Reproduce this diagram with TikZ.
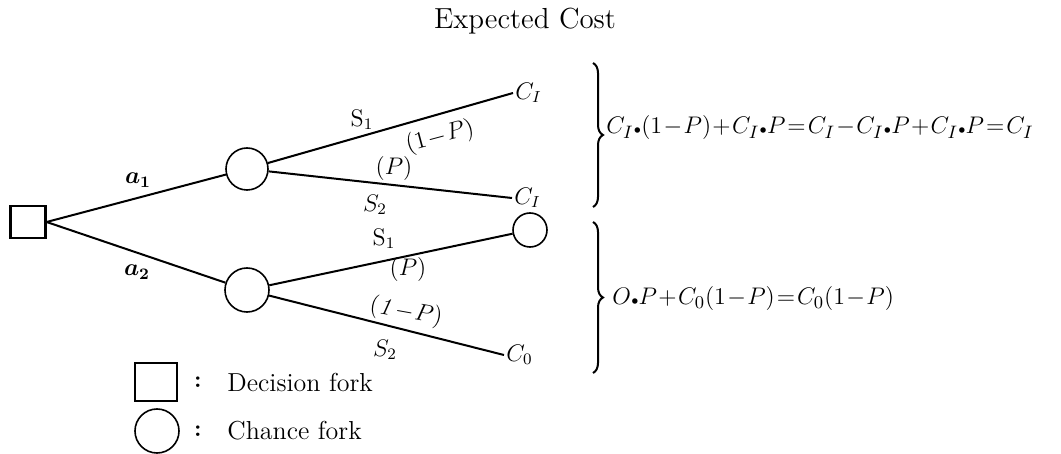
\documentclass[tikz,border=0pt]{standalone}
\usepackage{amsmath}
\usepackage{amssymb}
\usepackage{tikz}
\usetikzlibrary{decorations.pathreplacing}
\newcommand{\bdot}{{\scriptscriptstyle\bullet}}
\newcommand{\tightmath}{\medmuskip=1mu\relax\thickmuskip=1.5mu\relax}

\begin{document}
\begin{tikzpicture}[
  x=0.5pt, y=-0.5pt,
  font=\fontsize{12}{14}\selectfont,
  decision/.style={draw, rectangle, line width=1.1pt, minimum width=#1, minimum height=0.9*#1, inner sep=0pt},
  chance/.style={draw, circle, line width=0.8pt, minimum size=#1, inner sep=0pt},
  outcome/.style={anchor=west, inner sep=1pt},
  branch/.style={line width=1pt},
  lbl/.style={inner sep=0pt},
  bracket/.style={decorate, decoration={brace, amplitude=5pt}, line width=1pt},
  formula/.style={anchor=west, inner sep=0pt, font=\fontsize{13}{15}\selectfont},
  legend/.style={anchor=west, inner sep=0pt, font=\fontsize{13}{15}\selectfont}
]
\useasboundingbox (0,0) rectangle (1061,454);

\node[font=\fontsize{14.5}{17}\selectfont] (title) at (525,21) {Expected Cost};

\node[decision=17.5pt] (dec) at (28,222) {};
\node[chance=21pt] (ch1) at (247,169) {};
\node[chance=22pt] (ch2) at (247,290) {};
\node[chance=17pt] (ch3) at (530,230) {};

\node[outcome] (cIa) at (513,93) {$C_I$};
\node[outcome] (cIb) at (512,198) {$C_I$};
\node[outcome] (c0) at (504,355) {$C_0$};

\draw[branch] (dec.east) -- (ch1);
\draw[branch] (dec.east) -- (ch2);
\draw[branch] (ch1) -- (cIa.west);
\draw[branch] (ch1) -- (cIb.west);
\draw[branch] (ch2) -- (ch3);
\draw[branch] (ch2) -- (c0.west);

\node[lbl] (a1) at (138,180) {$\boldsymbol{a_1}$};
\node[lbl] (a2) at (137,272) {$\boldsymbol{a_2}$};
\node[lbl] (s1a) at (362,120) {$\mathrm{S}_1$};
\node[lbl, rotate=15] (q1a) at (440,137) {$\tightmath(1-P)$};
\node[lbl] (p1a) at (394,169) {$(P)$};
\node[lbl] (s2a) at (375,205) {$S_2$};
\node[lbl] (s1b) at (384,239) {$\mathrm{S}_1$};
\node[lbl] (p1b) at (408,270) {$(P)$};
\node[lbl, rotate=-10] (q1b) at (406,312) {$\tightmath(\mathit{1}-P)$};
\node[lbl] (s2b) at (385,350) {$S_2$};

\coordinate (b1top) at (593,63);
\coordinate (b1bot) at (593,207);
\coordinate (b2top) at (593,222);
\coordinate (b2bot) at (593,373);
\draw[bracket] (b1top) -- (b1bot);
\draw[bracket] (b2top) -- (b2bot);

\node[formula] (eq1) at (606,128) {$\tightmath C_I\bdot(1-P)+C_I\bdot P=C_I-C_I\bdot P+C_I\bdot P=C_I$};
\node[formula] (eq2) at (612,299) {$\tightmath O\bdot P+C_0(1-P)=C_0(1-P)$};

\node[decision=21pt] (legdec) at (156,382) {};
\node[chance=22pt] (legch) at (157,431) {};
\node[inner sep=0pt] (col1) at (198,382) {\textbf{:}};
\node[inner sep=0pt] (col2) at (198,431) {\textbf{:}};
\node[legend] (txt1) at (227,382) {Decision fork};
\node[legend] (txt2) at (227,431) {Chance fork};
\end{tikzpicture}
\end{document}
